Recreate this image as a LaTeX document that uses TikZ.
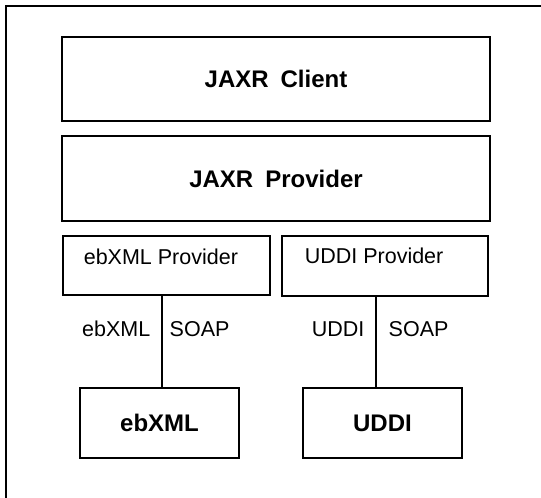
\documentclass[tikz,border=0pt]{standalone}
\usepackage{fontspec}
\setmainfont{Liberation Sans}
\usepackage{tikz}

\begin{document}
\begin{tikzpicture}[
        x = 1pt, y = -1pt,
        line width = 1.6pt % line style
    ]
    \tikzstyle{big box}=[
        draw = black,
        line width = 1.8pt,
        fill = white,
        rectangle,
        font = \fontsize{24}{28}\selectfont\bfseries
    ]

    \tikzstyle{small text}=[
        inner sep = 1pt,
        font = \fontsize{21.5}{25}\selectfont
    ]

    \useasboundingbox (0, 0) rectangle (541, 498);
    \draw[line width = 2pt] (541, 6) -| (6, 498);

	\node[big box, minimum width = 428, minimum height = 84] (c)  at (276, 79)    {JAXR\hspace{0.5em}Client\hspace{20pt}};
	\node[big box, minimum width = 428, minimum height = 85] (p)  at (276, 178.5) {JAXR\hspace{0.5em}Provider};
	\node[big box, minimum width = 207, minimum height = 59] (ep) at (166.5, 265.5) {};
	\node[big box, minimum width = 206, minimum height = 60] (up) at (385, 266)   {};
	\node[big box, minimum width = 159, minimum height = 70] (e)  at (159.5, 423) {ebXML\hspace{12pt}};
	\node[big box, minimum width = 159, minimum height = 70] (u)  at (382.5, 423) {UDDI\hspace{14pt}};

	\node[small text, anchor = west] (ept) at (82, 256.5) {ebXML Provider};
	\node[small text, anchor = west] (upt) at (303, 256)  {UDDI Provider};

	\path[-, line width = 1.4pt] ([xshift = 2.5]e.north |- ep.south) edge
	    node[small text, pos = 0.36, left = 10pt]{ebXML}
	    node[small text, pos = 0.36, right = 6pt]{SOAP} ([xshift = 2.5]e.north);
	\path[-, line width = 1.4pt] ([xshift = -6.5]u.north |- up.south) edge
	    node[small text, pos = 0.36, left = 10pt]{UDDI}
	    node[small text, pos = 0.36, right = 11pt]{SOAP} ([xshift = -6.5]u.north);

\end{tikzpicture}
\end{document}
